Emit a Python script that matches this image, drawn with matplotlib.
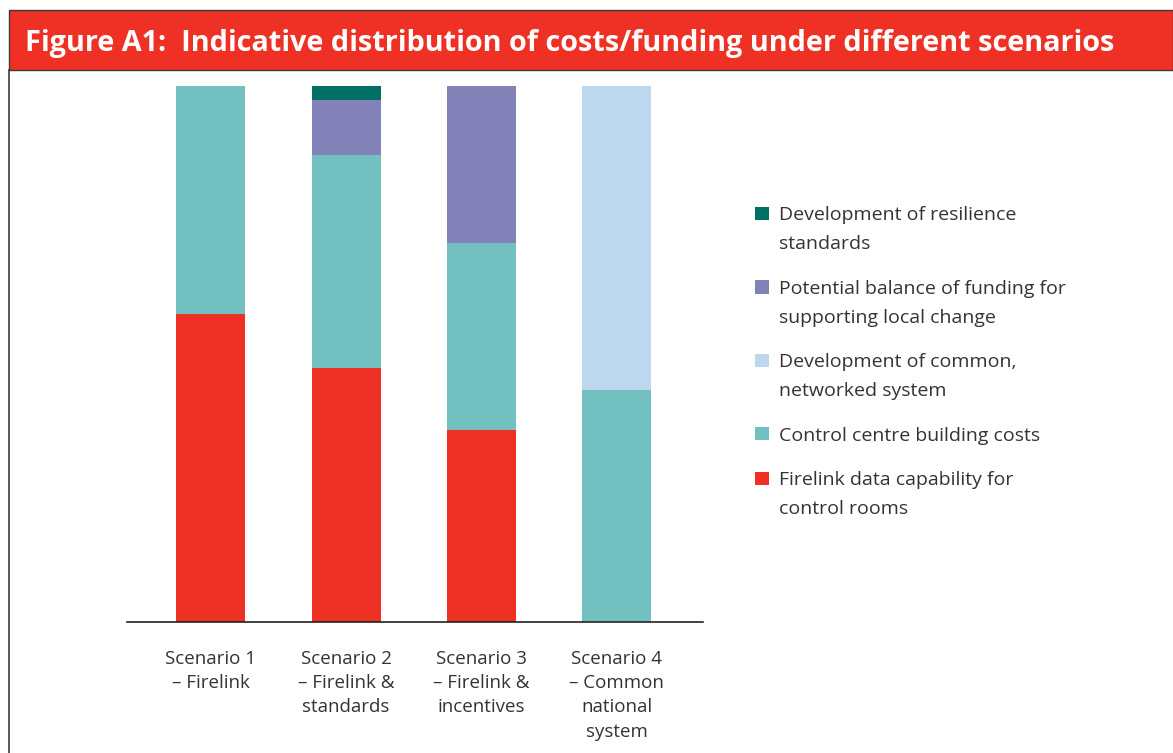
import matplotlib
matplotlib.use("Agg")
import matplotlib.pyplot as plt
from matplotlib.patches import Rectangle, Patch
from matplotlib.lines import Line2D
from matplotlib.legend_handler import HandlerPatch
import numpy as np

plt.rcParams["font.family"] = ["Open Sans", "DejaVu Sans"]

# Data (share of total, %)
scenarios = ["Scenario 1\n\u2013 Firelink", "Scenario 2\n\u2013 Firelink &\nstandards",
             "Scenario 3\n\u2013 Firelink &\nincentives", "Scenario 4\n\u2013 Common\nnational\nsystem"]
firelink = [57.5, 47.4, 35.8, 0.0]
building = [42.5, 39.7, 34.9, 43.3]
common_system = [0.0, 0.0, 0.0, 56.7]
local_change = [0.0, 10.3, 29.3, 0.0]
resilience = [0.0, 2.6, 0.0, 0.0]

series_labels = [
    "Firelink data capability for\ncontrol rooms",
    "Control centre building costs",
    "Development of common,\nnetworked system",
    "Potential balance of funding for\nsupporting local change",
    "Development of resilience\nstandards",
]
colors = ["#EE3124", "#73C0C0", "#BDD7EE", "#8282B8", "#006F66"]

LEG_FS = 14
LEG_LS = 1.78

fig = plt.figure(figsize=(11.73, 7.53), dpi=100)

# header band and frame
W, H = 1173.0, 753.0
fig.add_artist(Rectangle((9 / W, 1 - 70 / H), 1 - 9 / W, 60 / H, transform=fig.transFigure,
                         facecolor="#EE3124", edgecolor="#3a3a3a", linewidth=1.0))
fig.add_artist(Line2D([9 / W, 9 / W], [0, 1 - 70 / H], transform=fig.transFigure,
                      color="#3a3a3a", linewidth=1.2))
fig.text(25 / W, 1 - 44 / H, "Figure A1:  Indicative distribution of costs/funding under different scenarios",
         color="white", fontsize=20.8, fontweight="bold", va="center", ha="left")

ax = fig.add_axes([127 / W, 1 - 622 / H, 576 / W, 536 / H])
x = np.arange(len(scenarios))
bottom = np.zeros(len(scenarios))
for vals, col, lab in zip([firelink, building, common_system, local_change, resilience], colors, series_labels):
    ax.bar(x, vals, width=0.51, bottom=bottom, color=col, label=lab, linewidth=0)
    bottom += np.array(vals)

ax.set_xlim(-0.62, 3.64)
ax.set_ylim(0, 100)
ax.set_yticks([])
for s in ["top", "right", "left"]:
    ax.spines[s].set_visible(False)
ax.spines["bottom"].set_color("#222222")
ax.spines["bottom"].set_linewidth(1.2)
ax.set_xticks(x)
ax.set_xticklabels(scenarios, fontsize=13.5, color="#333333", linespacing=1.45)
ax.tick_params(axis="x", length=0, pad=20)


def top_aligned(nlines):
    # legend squares sit next to the first line of a wrapped label
    def make(legend, orig_handle, xdescent, ydescent, width, height, fontsize):
        dy = 0.5 * (nlines - 1) * 0.955 * fontsize * LEG_LS
        return Rectangle((-xdescent, -ydescent + dy), width, height)
    return make


proxies = [Patch(facecolor=c, linewidth=0) for c in colors]
hmap = {p: HandlerPatch(patch_func=top_aligned(lab.count("\n") + 1))
        for p, lab in zip(proxies, series_labels)}
leg = fig.legend(proxies[::-1], series_labels[::-1], loc="upper left", handler_map=hmap,
                 bbox_to_anchor=(738 / W, 1 - 189 / H), frameon=False, fontsize=LEG_FS,
                 handlelength=0.67, handleheight=0.67, handletextpad=0.55, labelspacing=1.36)
for t in leg.get_texts():
    t.set_color("#333333")
    t.set_linespacing(LEG_LS)

fig.savefig("out.png", dpi=100)
